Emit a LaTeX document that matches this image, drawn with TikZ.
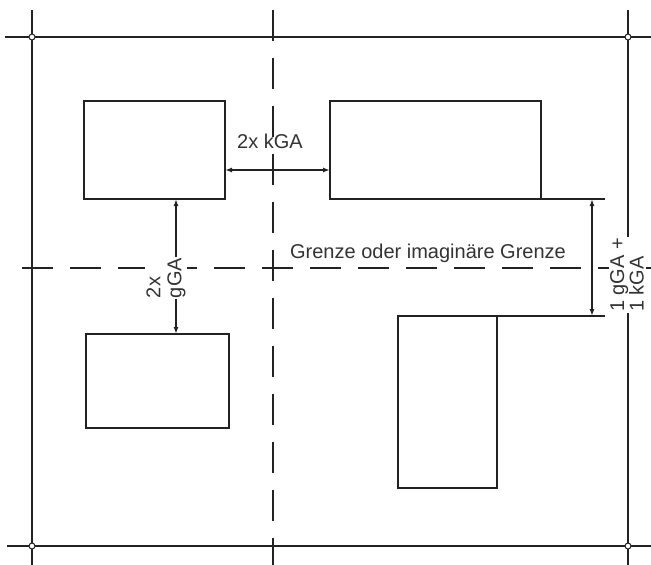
\documentclass[tikz,border=0pt]{standalone}
\usepackage{fontspec}
\setmainfont{Liberation Sans}
\usetikzlibrary{arrows.meta}
\definecolor{ink}{HTML}{222222}
\definecolor{txt}{HTML}{333333}
\begin{document}
\begin{tikzpicture}[x=1pt,y=-1pt,
  frame/.style={draw=ink,line width=1.6pt},
  bound/.style={draw=ink,line width=1.6pt,dash pattern=on 31pt off 17pt},
  box/.style={draw=ink,line width=1.6pt,inner sep=0pt,outer sep=0pt,fill=none},
  dim/.style={draw=ink,line width=1.4pt,{Latex[length=7pt,width=5pt]}-{Latex[length=7pt,width=5pt]}},
  ext/.style={draw=ink,line width=1.6pt},
  lbl/.style={text=txt,font=\fontsize{20}{21}\selectfont,inner sep=1pt},
  joint/.style={circle,draw=ink,fill=white,line width=1pt,minimum size=6pt,inner sep=0pt}]
\useasboundingbox (0,0) rectangle (651,565);
% frame grid
\coordinate (tl1) at (5,37); \coordinate (tr1) at (651,37);
\coordinate (bl1) at (7,546); \coordinate (br1) at (651,546);
\coordinate (lv1) at (32,10); \coordinate (lv2) at (32,565);
\coordinate (rv1) at (628,10); \coordinate (rv2) at (628,565);
\draw[frame] (tl1) -- (tr1);
\draw[frame] (bl1) -- (br1);
\draw[frame] (lv1) -- (lv2);
\draw[frame] (rv1) -- (rv2);
% dashed boundaries
\coordinate (hd1) at (22,268); \coordinate (hd2) at (651,268);
\coordinate (vd1) at (273,10); \coordinate (vd2) at (273,565);
\draw[bound] (hd1) -- (hd2);
\draw[bound] (vd1) -- (vd2);
% joints
\node[joint] (j1) at (32,37) {};
\node[joint] (j2) at (628,37) {};
\node[joint] (j3) at (32,546) {};
\node[joint] (j4) at (628,546) {};
% buildings
\node[box,minimum width=141pt,minimum height=98pt] (A) at (154.5,150) {};
\node[box,minimum width=211pt,minimum height=98pt] (B) at (435.5,150) {};
\node[box,minimum width=143pt,minimum height=94pt] (C) at (157.5,381) {};
\node[box,minimum width=99pt,minimum height=172pt] (D) at (447.5,402) {};
% extension lines
\coordinate (e1) at (605,199);
\coordinate (e2) at (605,316);
\draw[ext] (B.south east) -- (e1);
\draw[ext] (D.north east) -- (e2);
% dimension arrows
\coordinate (h1) at (A.east |- 0,170);
\coordinate (h2) at (B.west |- 0,170);
\draw[dim] (h1) -- (h2);
\coordinate (v1) at (176,199);
\coordinate (v2) at (176,334);
\draw[dim] (v1) -- (v2);
\coordinate (r1) at (592,199);
\coordinate (r2) at (592,316);
\draw[dim] (r1) -- (r2);
% labels
\node[lbl] (lk) at (270,141) {2x kGA};
\node[lbl,fill=white,rotate=90,align=left,font=\fontsize{20}{21}\selectfont] (lg) at (166,278) {2x\\gGA};
\node[lbl,fill=white,rotate=90,align=left,font=\fontsize{20}{18}\selectfont] (lr) at (627,275) {1 gGA +\\1 kGA};
\node[lbl] (lgr) at (428,253) {Grenze oder imaginäre Grenze};
\end{tikzpicture}
\end{document}
